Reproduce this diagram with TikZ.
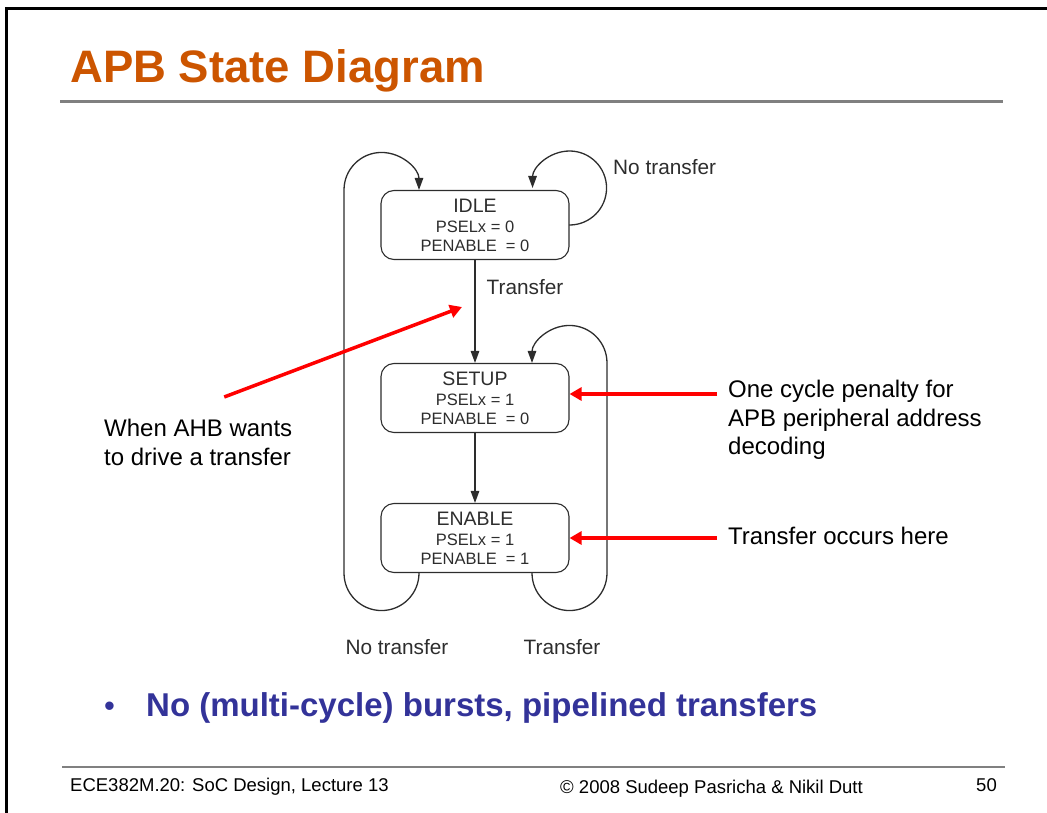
\documentclass[tikz,border=0pt]{standalone}
\usepackage{fontspec}
\setmainfont{Liberation Sans}
\usetikzlibrary{arrows.meta}
\definecolor{titleorange}{RGB}{204,85,0}
\definecolor{bulletblue}{RGB}{51,51,153}
\definecolor{statedark}{RGB}{45,45,45}

\begin{document}
\begin{tikzpicture}[x=1pt, y=1pt, line cap=round,
    state/.style={draw=statedark, line width=1.1pt, rounded corners=13pt,
        minimum width=188pt, minimum height=69pt, align=center,
        text=statedark, font=\fontsize{16.5}{19}\selectfont, inner sep=0pt},
    trans/.style={statedark, line width=1.3pt,
        -{Triangle[length=12pt, width=8.5pt]}},
    lbl/.style={text=statedark, font=\fontsize{20.8}{24}\selectfont, inner sep=0pt},
    note/.style={font=\fontsize{24}{28.5}\selectfont, align=left, inner sep=0pt},
    pointer/.style={red, line width=3.5pt, line cap=butt,
        -{Triangle[length=12pt, width=13pt]}}]
    \useasboundingbox (0,0) rectangle (1047,-813);
    % --- marco de la diapositiva
    \draw[line width=2.2pt, line cap=butt] (6.5,-813) -- (6.5,-8.5) -- (1047,-8.5);
    % --- titulo
    \node[anchor=base west, inner sep=0pt, text=titleorange,
         font=\fontsize{45.5}{50}\selectfont\bfseries] (title) at (70,-83)
         {APB State Diagram};
    \draw[gray, line width=3pt, line cap=butt] (60,-102) -- (1003,-102);
    % --- estados
    \node[state] (idle) at (475,-225)
         {{\fontsize{19.5}{22}\selectfont IDLE}\\[1pt] PSELx = 0\\ PENABLE\ \ = 0};
    \node[state] (setup) at (475,-398)
         {{\fontsize{19.5}{22}\selectfont SETUP}\\[1pt] PSELx = 1\\ PENABLE\ \ = 0};
    \node[state] (enable) at (475,-538)
         {{\fontsize{19.5}{22}\selectfont ENABLE}\\[1pt] PSELx = 1\\ PENABLE\ \ = 1};
    % --- transiciones
    \draw[trans] (idle) -- node[lbl, pos=0.26, anchor=west, xshift=11pt] (tr1)
         {Transfer} (setup);
    \draw[trans] (setup) -- (enable);
    \draw[trans] (idle.east) arc[start angle=-90, end angle=180, radius=37pt];
    \node[lbl, anchor=west] (nt1) at (613,-167) {No transfer};
    \draw[trans] ([xshift=-56pt]enable.south)
         arc[start angle=0, end angle=-180, radius=37.5pt]
         -- ([xshift=-131pt]idle.north)
         arc[start angle=180, end angle=0, radius=37.5pt];
    \node[lbl] (nt2) at (397,-647) {No transfer};
    \draw[trans] ([xshift=57pt]enable.south)
         arc[start angle=180, end angle=360, radius=37.5pt]
         -- ([xshift=132pt]setup.north)
         arc[start angle=0, end angle=180, radius=37.5pt];
    \node[lbl] (tr2) at (562,-647) {Transfer};
    % --- notas en rojo
    \node[note, anchor=north west] (ahb) at (104,-419)
         {When AHB wants\\to drive a transfer};
    \coordinate (aim) at (462,-307);
    \draw[pointer] ([xshift=26pt, yshift=22pt]ahb.north) -- (aim);
    \node[note, anchor=north west] (penalty) at (728,-380)
         {One cycle penalty for\\APB peripheral address\\decoding};
    \draw[pointer, shorten <=11pt] ([yshift=4pt]penalty.west |- setup.east)
         -- ([yshift=4pt]setup.east);
    \node[note, anchor=west] (occurs) at (728,-536) {Transfer occurs here};
    \draw[pointer, shorten <=11pt] (occurs.west |- enable.east) -- (enable.east);
    % --- vineta
    \node[anchor=base west, inner sep=0pt, text=bulletblue,
         font=\fontsize{31}{36}\selectfont] (dot) at (104,-716) {•};
    \node[anchor=base west, inner sep=0pt, text=bulletblue,
         font=\fontsize{33}{38}\selectfont\bfseries] (bullet) at (146,-716)
         {No (multi-cycle) bursts, pipelined transfers};
    % --- pie
    \draw[gray, line width=2.5pt, line cap=butt] (62,-767) -- (1005,-767);
    \node[anchor=base west, inner sep=0pt, font=\fontsize{18.5}{22}\selectfont]
         (course) at (70,-791) {ECE382M.20: SoC Design, Lecture 13};
    \node[anchor=base west, inner sep=0pt, font=\fontsize{18.5}{22}\selectfont]
         (copy) at (560,-793) {© 2008 Sudeep Pasricha \& Nikil Dutt};
    \node[anchor=base east, inner sep=0pt, font=\fontsize{18.5}{22}\selectfont]
         (page) at (997,-791) {50};
\end{tikzpicture}
\end{document}
